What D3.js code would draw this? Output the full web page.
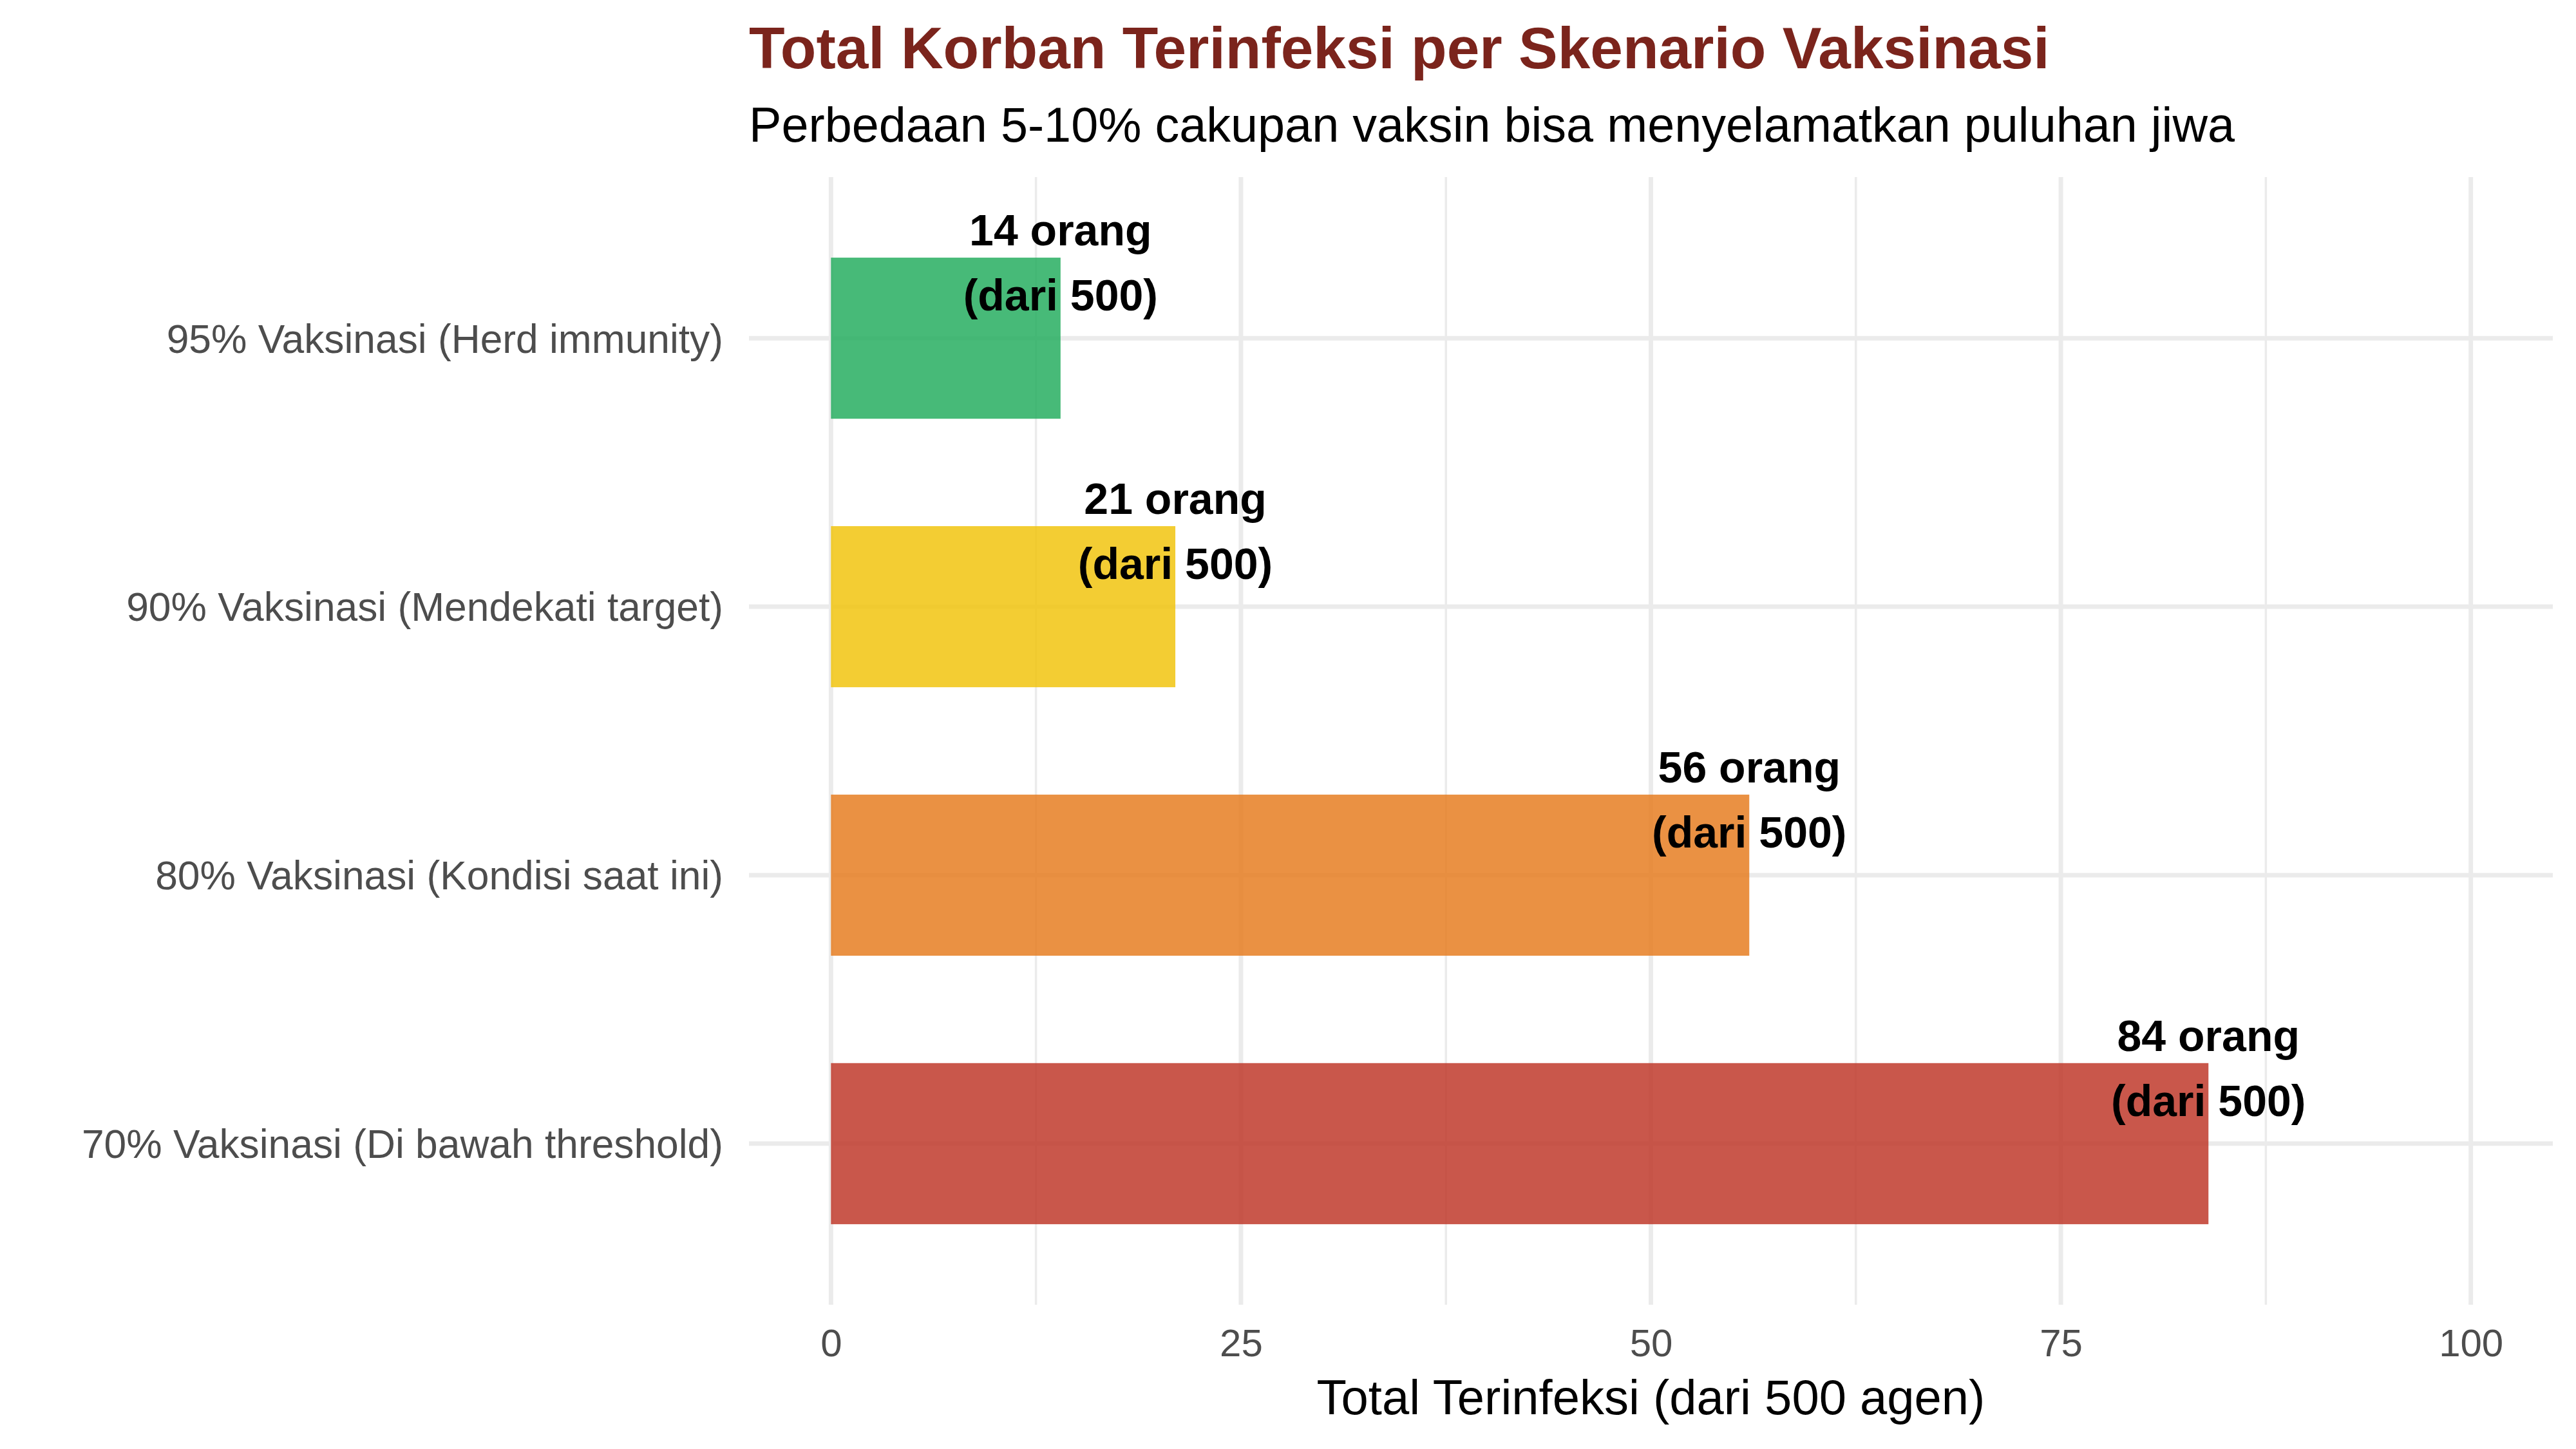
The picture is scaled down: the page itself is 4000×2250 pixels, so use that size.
<!DOCTYPE html>
<html>
<head>
<meta charset="utf-8">
<script src="https://cdn.jsdelivr.net/npm/d3@7"></script>
<style>
  body { margin: 0; background: #FFFFFF; }
  text { font-family: "Liberation Sans", Arial, sans-serif; }
</style>
</head>
<body>
<svg id="plot"></svg>
<script>
// data
const categories = [
    "95% Vaksinasi (Herd immunity)",
    "90% Vaksinasi (Mendekati target)",
    "80% Vaksinasi (Kondisi saat ini)",
    "70% Vaksinasi (Di bawah threshold)"
];
const infected = [14, 21, 56, 84];
const totalAgents = 500;
const xTicks = [0, 25, 50, 75, 100];
const xMinorTicks = [12.5, 37.5, 62.5, 87.5];

const data = categories.map((c, i) => ({ name: c, value: infected[i] }));

let width = 4000;
let height = 2250;
let panel = { left: 1163, right: 3964, top: 275, bottom: 2026 };

let svg = d3.select('#plot')
    .attr('width', width)
    .attr('height', height)
    .style('background', '#FFFFFF');

let xScale = d3.scaleLinear()
    .domain([-5, 105])
    .range([panel.left, panel.right]);

let yScale = d3.scaleBand()
    .domain(categories)
    .range([panel.top, panel.bottom])
    .paddingInner(0.4)
    .paddingOuter(0.3);

let color = d3.scaleOrdinal()
    .domain(categories)
    .range(["#27AE60", "#F1C40F", "#E67E22", "#C0392B"]);

// grid
let grid = svg.append('g');
grid.selectAll('.minor')
    .data(xMinorTicks)
    .enter()
    .append('line')
    .attr('x1', d => xScale(d))
    .attr('x2', d => xScale(d))
    .attr('y1', panel.top)
    .attr('y2', panel.bottom)
    .attr('stroke', '#EBEBEB')
    .attr('stroke-width', 3.5);

grid.selectAll('.major')
    .data(xTicks)
    .enter()
    .append('line')
    .attr('x1', d => xScale(d))
    .attr('x2', d => xScale(d))
    .attr('y1', panel.top)
    .attr('y2', panel.bottom)
    .attr('stroke', '#EBEBEB')
    .attr('stroke-width', 7);

grid.selectAll('.hmajor')
    .data(categories)
    .enter()
    .append('line')
    .attr('x1', panel.left)
    .attr('x2', panel.right)
    .attr('y1', d => yScale(d) + yScale.bandwidth() / 2)
    .attr('y2', d => yScale(d) + yScale.bandwidth() / 2)
    .attr('stroke', '#EBEBEB')
    .attr('stroke-width', 7);

// bars
svg.selectAll('rect.bar')
    .data(data)
    .enter()
    .append('rect')
    .attr('class', 'bar')
    .attr('x', xScale(0))
    .attr('y', d => yScale(d.name))
    .attr('width', d => xScale(d.value) - xScale(0))
    .attr('height', yScale.bandwidth())
    .attr('fill', d => color(d.name))
    .attr('fill-opacity', 0.85);

// labels on bars
let labels = svg.selectAll('text.lbl')
    .data(data)
    .enter()
    .append('text')
    .attr('class', 'lbl')
    .attr('text-anchor', 'middle')
    .style('font-size', '68px')
    .style('font-weight', 'bold')
    .attr('fill', '#000000');

labels.append('tspan')
    .attr('x', d => xScale(d.value))
    .attr('y', d => yScale(d.name) + yScale.bandwidth() / 2 - 144)
    .text(d => d.value + ' orang');

labels.append('tspan')
    .attr('x', d => xScale(d.value))
    .attr('y', d => yScale(d.name) + yScale.bandwidth() / 2 - 43)
    .text('(dari ' + totalAgents + ')');

// axes
let xAxis = svg.append('g')
    .attr('transform', `translate(0, ${panel.bottom})`)
    .call(d3.axisBottom(xScale).tickValues(xTicks).tickSize(0).tickPadding(37));
xAxis.select('.domain').remove();
xAxis.selectAll('text')
    .style('font-size', '60px')
    .attr('fill', '#4D4D4D');

let yAxis = svg.append('g')
    .attr('transform', `translate(${panel.left}, 0)`)
    .call(d3.axisLeft(yScale).tickSize(0).tickPadding(40));
yAxis.select('.domain').remove();
yAxis.selectAll('text')
    .style('font-size', '62.3px')
    .attr('dy', '0.36em')
    .attr('fill', '#4D4D4D');

// titles
svg.append('text')
    .attr('x', panel.left)
    .attr('y', 106)
    .style('font-size', '91px')
    .style('font-weight', 'bold')
    .attr('fill', '#7B241C')
    .text('Total Korban Terinfeksi per Skenario Vaksinasi');

svg.append('text')
    .attr('x', panel.left)
    .attr('y', 220)
    .style('font-size', '75.6px')
    .attr('fill', '#000000')
    .text('Perbedaan 5-10% cakupan vaksin bisa menyelamatkan puluhan jiwa');

svg.append('text')
    .attr('x', (panel.left + panel.right) / 2)
    .attr('y', 2196)
    .attr('text-anchor', 'middle')
    .style('font-size', '76px')
    .attr('fill', '#000000')
    .text('Total Terinfeksi (dari ' + totalAgents + ' agen)');
</script>
</body>
</html>
